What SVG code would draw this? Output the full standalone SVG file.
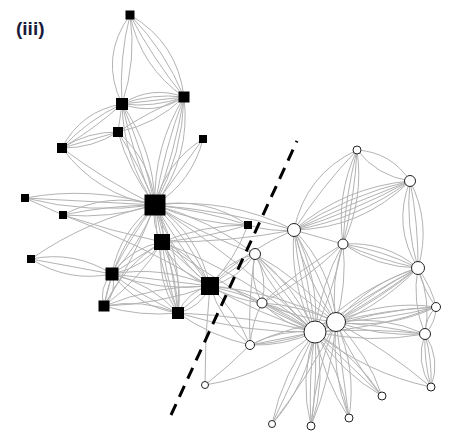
<svg xmlns="http://www.w3.org/2000/svg" width="467" height="440" viewBox="0 0 467 440">
<style>
.e{fill:none;stroke:#b3b3b3;stroke-width:1}
.sq{fill:#000}
.ci{fill:#fff;stroke:#222;stroke-width:1}
.lbl{font-family:"Liberation Sans",Arial,sans-serif;font-weight:bold;font-size:19px;fill:#1a1a3a}
.cut{fill:none;stroke:#000;stroke-width:3;stroke-dasharray:12 8}
</style>
<rect width="467" height="440" fill="#fff"/>
<g id="connectors">
<path class="e" d="M130 15Q99.3 57.1 122 104M130 15Q118.9 58.9 122 104M130 15Q136.7 60.5 122 104"/>
<path class="e" d="M130 15Q177.5 42.5 184 97M130 15Q165.2 50.6 184 97M130 15Q152.9 58.7 184 97M130 15Q140.6 66.8 184 97"/>
<path class="e" d="M122 104Q151.3 85 184 97M122 104Q152.2 93.1 184 97M122 104Q153 100.5 184 97M122 104Q153.8 107.9 184 97M122 104Q154.8 116 184 97"/>
<path class="e" d="M122 104Q81 111 62 148M122 104Q87.6 120 62 148M122 104Q94.2 129 62 148"/>
<path class="e" d="M118 132Q87.6 131.6 62 148M118 132Q90 140 62 148M118 132Q92.4 148.4 62 148"/>
<path class="e" d="M118 132Q156.3 124.4 184 97M118 132Q149.3 111.2 184 97"/>
<path class="e" d="M118 132L122 104"/>
<path class="e" d="M62 148Q97.1 195.1 155 205M62 148Q105.7 181.2 155 205"/>
<path class="e" d="M122 104Q123.4 159.5 155 205M122 104Q133.5 156.2 155 205M122 104Q143.6 152.9 155 205M122 104Q153.7 149.6 155 205"/>
<path class="e" d="M184 97Q153.3 146.7 155 205M184 97Q164.1 149.6 155 205M184 97Q174.9 152.5 155 205M184 97Q182.5 154.5 155 205M184 97Q191.1 156.8 155 205"/>
<path class="e" d="M118 132Q129.2 172.2 155 205M118 132Q140.2 166.7 155 205M118 132Q151.1 161.1 155 205"/>
<path class="e" d="M203 139Q165.8 162.4 155 205M203 139Q179 172 155 205M203 139Q192.2 181.6 155 205"/>
<path class="e" d="M25 198Q90.8 185.9 155 205M25 198Q90 201.5 155 205M25 198Q89.3 214.5 155 205"/>
<path class="e" d="M25 198L63 215"/>
<path class="e" d="M63 215Q107 191.6 155 205M63 215Q108.5 205.4 155 205M63 215Q110 219.2 155 205"/>
<path class="e" d="M63 215Q111.7 231.5 162 242"/>
<path class="e" d="M63 215Q140 243.2 210 286"/>
<path class="e" d="M31 259Q74.5 250.3 112 274M31 259Q71.5 266.5 112 274M31 259Q68.5 282.7 112 274"/>
<path class="e" d="M31 259Q87.6 219.6 155 205"/>
<path class="e" d="M155 205Q151.1 224.9 162 242M155 205Q158.5 223.5 162 242M155 205Q165.9 222.1 162 242"/>
<path class="e" d="M155 205Q119.7 230.9 112 274M155 205Q130.1 237.4 112 274M155 205Q140.4 243.8 112 274"/>
<path class="e" d="M155 205Q114.4 247.9 104 306M155 205Q134.6 258.1 104 306"/>
<path class="e" d="M155 205Q170.4 253.8 210 286M155 205Q180.1 247.2 210 286M155 205Q190.6 240 210 286M155 205Q198.7 234.5 210 286"/>
<path class="e" d="M155 205Q155.7 261.3 178 313M155 205Q171.9 257.9 178 313M155 205Q182.7 255.6 178 313"/>
<path class="e" d="M162 242Q130.6 248 112 274M162 242Q137 258 112 274M162 242Q143.4 268 112 274"/>
<path class="e" d="M162 242Q123.4 265.3 104 306M162 242Q139.4 279.8 104 306"/>
<path class="e" d="M162 242Q177.2 273.6 210 286M162 242Q186 264 210 286M162 242Q194.8 254.4 210 286"/>
<path class="e" d="M162 242Q155.8 280.7 178 313M162 242Q166.5 278.3 178 313M162 242Q177.1 275.9 178 313M162 242Q184.2 274.3 178 313"/>
<path class="e" d="M112 274Q98.4 287.6 104 306M112 274Q108 290 104 306M112 274Q117.6 292.4 104 306"/>
<path class="e" d="M112 274Q162.8 265.3 210 286M112 274Q161 280 210 286M112 274Q159.6 291.8 210 286"/>
<path class="e" d="M112 274Q150.9 283.6 178 313M112 274Q143.1 296.8 178 313M112 274Q137.2 306.7 178 313"/>
<path class="e" d="M104 306Q155 285.4 210 286M104 306Q158.6 304.5 210 286"/>
<path class="e" d="M104 306Q142.1 298.4 178 313M104 306Q140.3 316.9 178 313"/>
<path class="e" d="M210 286Q187.3 291.5 178 313M210 286Q194 299.5 178 313M210 286Q200.8 307.5 178 313"/>
<path class="e" d="M155 205Q205.5 196.4 248 225M155 205Q202.5 210.4 248 225M155 205Q199.5 224.3 248 225"/>
<path class="e" d="M162 242Q203.3 224.9 248 225M162 242Q205.9 237.8 248 225"/>
<path class="e" d="M155 205Q228.3 196.7 294 230M155 205Q225.8 210.6 294 230"/>
<path class="e" d="M155 205Q209.9 219.5 255 254M155 205Q202.6 234.5 255 254"/>
<path class="e" d="M210 286Q238.9 279 255 254M210 286Q232.5 270 255 254M210 286Q226.1 261 255 254"/>
<path class="e" d="M210 286Q238.6 286.7 262 303M210 286Q234.3 299.7 262 303"/>
<path class="e" d="M210 286Q267.1 298.5 315 332M210 286Q260.2 314.3 315 332"/>
<path class="e" d="M210 286Q276.6 291.4 336 322"/>
<path class="e" d="M162 242Q245.7 274.8 315 332M162 242Q234 294.7 315 332"/>
<path class="e" d="M178 313Q247.5 315.7 315 332M178 313Q245 333.5 315 332"/>
<path class="e" d="M178 313Q210.8 336.2 250 345"/>
<path class="e" d="M210 286Q204.5 335.4 205 385"/>
<path class="e" d="M210 286Q221.2 321.5 250 345M210 286Q235.9 311.5 250 345"/>
<path class="e" d="M155 205Q241.4 260.5 315 332"/>
<path class="e" d="M248 225Q270.5 232.1 294 230"/>
<path class="e" d="M210 286Q235.1 259.3 248 225"/>
<path class="e" d="M210 286Q246.4 249.6 294 230"/>
<path class="e" d="M162 242Q228.6 242.6 294 230"/>
<path class="e" d="M357 150Q305.5 174.3 294 230M357 150Q321.5 186.9 294 230"/>
<path class="e" d="M357 150Q391.3 152.3 410 181M357 150Q377.3 176.1 410 181"/>
<path class="e" d="M357 150Q335.9 194.9 343 244M357 150Q345.3 196.3 343 244M357 150Q354.7 197.7 343 244M357 150Q364.1 199.1 343 244"/>
<path class="e" d="M410 181Q361.8 228.7 294 230M410 181Q357.9 219.4 294 230M410 181Q354.5 211.3 294 230M410 181Q351 203.2 294 230M410 181Q347.6 195.1 294 230M410 181Q344.2 186.9 294 230"/>
<path class="e" d="M410 181Q392.3 226.5 418 268M410 181Q405.3 225.3 418 268M410 181Q418.4 224.1 418 268M410 181Q431.4 222.9 418 268"/>
<path class="e" d="M343 244Q385.3 241 418 268M343 244Q382.4 250 418 268M343 244Q379.3 259.8 418 268M343 244Q376.9 267.3 418 268"/>
<path class="e" d="M294 230L343 244"/>
<path class="e" d="M294 230Q289.2 284.2 315 332M294 230Q299.4 282.1 315 332M294 230Q309.6 280 315 332M294 230Q319.8 277.9 315 332"/>
<path class="e" d="M294 230Q305.8 280.2 336 322M294 230Q319.6 273.9 336 322M294 230Q331.6 268.4 336 322"/>
<path class="e" d="M343 244Q320.2 285.2 315 332M343 244Q333.4 289.4 315 332"/>
<path class="e" d="M343 244Q330.1 282.2 336 322M343 244Q347.3 283.7 336 322"/>
<path class="e" d="M343 244Q299.6 269.5 262 303M343 244Q307.2 280 262 303"/>
<path class="e" d="M255 254Q275.6 300.2 315 332M255 254Q285 293 315 332M255 254Q294.4 285.8 315 332"/>
<path class="e" d="M255 254Q292.1 292 336 322M255 254Q302.3 279.9 336 322"/>
<path class="e" d="M255 254Q248.7 279.9 262 303M255 254Q268.3 277.1 262 303"/>
<path class="e" d="M255 254Q248 299.3 250 345"/>
<path class="e" d="M418 268Q358.8 287.6 315 332M418 268Q363.9 295.9 315 332M418 268Q369.1 304.1 315 332M418 268Q374.2 312.4 315 332"/>
<path class="e" d="M418 268Q368.9 282.7 336 322M418 268Q374.3 290.9 336 322M418 268Q379.7 299.1 336 322"/>
<path class="e" d="M418 268Q411.6 302 425 334M418 268Q431.4 300 425 334"/>
<path class="e" d="M418 268Q432.9 290.2 436 307M418 268Q423.1 289.3 436 307"/>
<path class="e" d="M436 307Q383.8 299.5 336 322M436 307Q385.3 309.5 336 322M436 307Q386.8 319.5 336 322M436 307Q388.3 329.5 336 322"/>
<path class="e" d="M436 307Q373.5 309.8 315 332M436 307Q377.5 329.2 315 332"/>
<path class="e" d="M425 334Q382.3 314.7 336 322M425 334Q380.9 325.3 336 322M425 334Q379.3 336.9 336 322"/>
<path class="e" d="M425 334Q369.8 344 315 332M425 334Q370.1 327.5 315 332"/>
<path class="e" d="M436 307Q425.1 318.3 425 334M436 307Q435.9 322.7 425 334"/>
<path class="e" d="M425 334Q414.8 362 431 387M425 334Q423.8 361 431 387M425 334Q432.2 360 431 387M425 334Q441.3 359 431 387"/>
<path class="e" d="M431 387Q366.4 373.4 315 332"/>
<path class="e" d="M431 387Q386.8 349.8 336 322"/>
<path class="e" d="M382 396Q356.2 356 315 332M382 396Q348.5 364 315 332M382 396Q340.8 372 315 332"/>
<path class="e" d="M382 396Q367.9 353.5 336 322M382 396Q353.1 362.7 336 322"/>
<path class="e" d="M272 424Q307.3 384.5 315 332M272 424Q293.5 378 315 332M272 424Q282.5 372.8 315 332"/>
<path class="e" d="M272 424Q309.1 376.2 336 322"/>
<path class="e" d="M311 426Q327.1 379.6 315 332M311 426Q317.7 379.2 315 332M311 426Q308.3 378.8 315 332M311 426Q298.9 378.4 315 332"/>
<path class="e" d="M311 426Q331.8 376 336 322M311 426Q315.2 372 336 322"/>
<path class="e" d="M349 418Q340.6 371.6 315 332M349 418Q323.4 378.4 315 332"/>
<path class="e" d="M349 418Q356.9 368.1 336 322M349 418Q342.5 370 336 322M349 418Q331 371.6 336 322"/>
<path class="e" d="M250 345Q280.6 328.8 315 332M250 345Q282.5 338.5 315 332M250 345Q284.1 346.3 315 332"/>
<path class="e" d="M250 345Q290.7 324.9 336 322M250 345Q295.3 342.1 336 322"/>
<path class="e" d="M205 385Q228.7 366.4 250 345"/>
<path class="e" d="M205 385Q268 375 315 332"/>
<path class="e" d="M262 303Q292.9 309.6 315 332M262 303Q288.5 317.5 315 332M262 303Q284.2 325.5 315 332"/>
<path class="e" d="M262 303Q300.9 305.1 336 322M262 303Q297.5 318.4 336 322"/>
<path class="e" d="M262 303Q251.8 322.8 250 345"/>
</g>
<g id="divider"><line class="cut" x1="171" y1="415" x2="297" y2="141"/></g>
<g id="s1"><rect class="sq" x="125.5" y="10.5" width="9" height="9"/></g>
<g id="s2"><rect class="sq" x="116" y="98" width="12" height="12"/></g>
<g id="s3"><rect class="sq" x="178.5" y="91.5" width="11" height="11"/></g>
<g id="s4"><rect class="sq" x="113" y="127" width="10" height="10"/></g>
<g id="s5"><rect class="sq" x="57" y="143" width="10" height="10"/></g>
<g id="s6"><rect class="sq" x="199" y="135" width="8" height="8"/></g>
<g id="s7"><rect class="sq" x="144.5" y="194.5" width="21" height="21"/></g>
<g id="s8"><rect class="sq" x="21" y="194" width="8" height="8"/></g>
<g id="s9"><rect class="sq" x="59" y="211" width="8" height="8"/></g>
<g id="s10"><rect class="sq" x="244" y="221" width="8" height="8"/></g>
<g id="s11"><rect class="sq" x="154" y="234" width="16" height="16"/></g>
<g id="s12"><rect class="sq" x="27" y="255" width="8" height="8"/></g>
<g id="s13"><rect class="sq" x="105.5" y="267.5" width="13" height="13"/></g>
<g id="s14"><rect class="sq" x="98.5" y="300.5" width="11" height="11"/></g>
<g id="s15"><rect class="sq" x="201" y="277" width="18" height="18"/></g>
<g id="s16"><rect class="sq" x="172" y="307" width="12" height="12"/></g>
<g id="c1"><circle class="ci" cx="357" cy="150" r="4"/></g>
<g id="c2"><circle class="ci" cx="410" cy="181" r="5.5"/></g>
<g id="c3"><circle class="ci" cx="294" cy="230" r="6.5"/></g>
<g id="c4"><circle class="ci" cx="343" cy="244" r="5"/></g>
<g id="c5"><circle class="ci" cx="255" cy="254" r="5.5"/></g>
<g id="c6"><circle class="ci" cx="418" cy="268" r="6.5"/></g>
<g id="c7"><circle class="ci" cx="262" cy="303" r="5"/></g>
<g id="c8"><circle class="ci" cx="436" cy="307" r="4.5"/></g>
<g id="c9"><circle class="ci" cx="315" cy="332" r="11"/></g>
<g id="c10"><circle class="ci" cx="336" cy="322" r="9.5"/></g>
<g id="c11"><circle class="ci" cx="425" cy="334" r="5.5"/></g>
<g id="c12"><circle class="ci" cx="250" cy="345" r="4.5"/></g>
<g id="c13"><circle class="ci" cx="205" cy="385" r="3.5"/></g>
<g id="c14"><circle class="ci" cx="431" cy="387" r="4"/></g>
<g id="c15"><circle class="ci" cx="382" cy="396" r="4"/></g>
<g id="c16"><circle class="ci" cx="272" cy="424" r="3.5"/></g>
<g id="c17"><circle class="ci" cx="311" cy="426" r="4"/></g>
<g id="c18"><circle class="ci" cx="349" cy="418" r="4"/></g>
<text class="lbl" x="16" y="35">(iii)</text>
</svg>
